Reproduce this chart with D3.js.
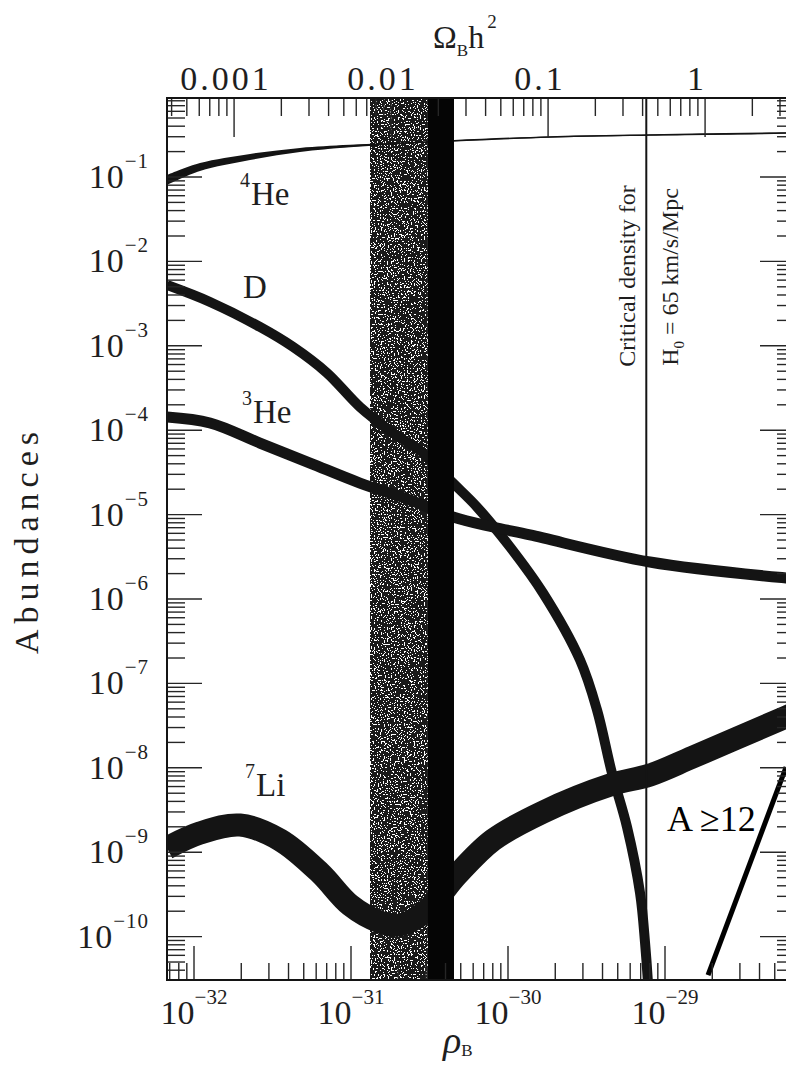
<!DOCTYPE html>
<html>
<head>
<meta charset="utf-8">
<script src="https://cdn.jsdelivr.net/npm/d3@7"></script>
<style>
  body { margin: 0; background: #fff; }
  svg { display: block; }
  text { font-family: "Liberation Serif", "Times New Roman", serif; fill: #1e1e1e; }
</style>
</head>
<body>
<div id="chart"></div>
<script>
// Données (log10 de rho_B en g/cm3, log10 des abondances)
const rhoHe4 = [-32.172, -31.962, -31.643, -31.325, -31.006, -30.369, -29.732, -29.096, -28.229, -28.10];
const abHe4  = [-1.036, -0.882, -0.763, -0.680, -0.633, -0.573, -0.526, -0.502, -0.479, -0.472];
const errHe4 = [0.059, 0.047, 0.036, 0.024, 0.014, 0.006, 0.006, 0.006, 0.006, 0.006];

const rhoD = [-32.172, -31.898, -31.580, -31.369, -31.153, -30.943, -30.732, -30.541, -30.350, -30.197,
              -29.987, -29.777, -29.541, -29.433, -29.338, -29.242, -29.159, -29.127, -29.102];
const abD  = [-2.280, -2.481, -2.777, -3.014, -3.322, -3.725, -4.033, -4.270, -4.626, -4.910,
              -5.384, -5.929, -6.723, -7.315, -8.062, -8.701, -9.483, -10.076, -10.75];

const rhoHe3 = [-32.172, -31.898, -31.580, -31.261, -30.943, -30.624, -30.350, -30.096, -29.860, -29.096, -28.229, -28.10];
const abHe3  = [-3.844, -3.915, -4.152, -4.389, -4.626, -4.827, -5.028, -5.147, -5.241, -5.562, -5.751, -5.768];

const rhoLi7 = [-32.172, -31.962, -31.707, -31.452, -31.197, -31.006, -30.815, -30.688, -30.516, -30.325,
                -30.096, -29.777, -29.350, -29.096, -28.822, -28.229, -28.10];
const abLi7  = [-8.950, -8.773, -8.678, -8.855, -9.246, -9.626, -9.827, -9.863, -9.685, -9.270,
                -8.855, -8.524, -8.204, -8.085, -7.872, -7.398, -7.300];

const rhoA12 = [-28.726, -28.229];
const abA12  = [-10.455, -7.991];

// bandes verticales (log10 rho)
const grayBand  = [-30.879, -30.510];
const blackBand = [-30.510, -30.344];

const rhoCrit = 7.6e-30;        // densité critique, H0 = 65 km/s/Mpc
const rhoPerOmegaH2 = 1.8e-29;  // rho_B = Omega_B h^2 * 1.8e-29

// graduations
const xDecades = [-33, -32, -31, -30, -29];
const xLabels  = [-32, -31, -30, -29];
const yDecades = d3.range(-11, 1);
const yLabels  = [-1, -2, -3, -4, -5, -6, -7, -8, -9, -10];
const topDecades = [-4, -3, -2, -1, 0];
const topValues  = [0.001, 0.01, 0.1, 1];
const topLabels  = ["0.001", "0.01", "0.1", "1"];

/////////////////////////////////////////////////////////

const W = 786, H = 1066;
const plot = {left: 167, right: 795, top: 98, bottom: 980};
const ink = "#141414";

const svg = d3.select("#chart").append("svg")
    .attr("width", W)
    .attr("height", H);

svg.append("rect").attr("width", W).attr("height", H).attr("fill", "#fff");

const x = d3.scaleLog().domain([10 ** -32.172, 10 ** -28.172]).range([plot.left, plot.right]);
const y = d3.scaleLog().domain([10 ** -10.514, 10 ** -0.064]).range([plot.bottom, plot.top]);

const defs = svg.append("defs");
defs.append("clipPath").attr("id", "clip")
  .append("rect")
    .attr("x", plot.left).attr("y", plot.top)
    .attr("width", plot.right - plot.left).attr("height", plot.bottom - plot.top);

// texture "grain" de la bande grise
const f = defs.append("filter").attr("id", "speckle")
    .attr("x", "0%").attr("y", "0%").attr("width", "100%").attr("height", "100%");
f.append("feTurbulence").attr("type", "fractalNoise").attr("baseFrequency", 0.7)
    .attr("numOctaves", 1).attr("seed", 7).attr("result", "noise");
f.append("feColorMatrix").attr("in", "noise").attr("type", "matrix")
    .attr("values", "0 0 0 0 1  0 0 0 0 1  0 0 0 0 1  1 0 0 0 0").attr("result", "w");
f.append("feComponentTransfer").attr("in", "w").attr("result", "t")
  .append("feFuncA").attr("type", "discrete")
    .attr("tableValues", "0 0 0 0 0 0 0 0 0 0 0 0 1 1 1 1 1 1 1 1");
f.append("feComposite").attr("in", "t").attr("in2", "SourceGraphic").attr("operator", "in");

const chart = svg.append("g").attr("clip-path", "url(#clip)");

// bande grise
chart.append("rect")
    .attr("x", x(10 ** grayBand[0])).attr("y", plot.top)
    .attr("width", x(10 ** grayBand[1]) - x(10 ** grayBand[0]))
    .attr("height", plot.bottom - plot.top)
    .attr("fill", "#1a1a1a");
chart.append("rect")
    .attr("x", x(10 ** grayBand[0])).attr("y", plot.top)
    .attr("width", x(10 ** grayBand[1]) - x(10 ** grayBand[0]))
    .attr("height", plot.bottom - plot.top)
    .attr("fill", "#e8e8e8")
    .attr("filter", "url(#speckle)");

// courbes
const line = d3.line()
    .x(d => x(10 ** d[0]))
    .y(d => y(10 ** d[1]))
    .curve(d3.curveCatmullRom.alpha(0.5));

function curve(rho, ab, w) {
  chart.append("path")
      .datum(d3.zip(rho, ab))
      .attr("d", line)
      .attr("fill", "none")
      .attr("stroke", ink)
      .attr("stroke-width", w)
      .attr("stroke-linecap", "butt")
      .attr("stroke-linejoin", "round");
}

// 4He : bande d'incertitude + trait fin
const he4 = d3.zip(rhoHe4, abHe4, errHe4);
chart.append("path")
    .datum(he4)
    .attr("d", d3.area()
        .x(d => x(10 ** d[0]))
        .y0(d => y(10 ** (d[1] - d[2])))
        .y1(d => y(10 ** (d[1] + d[2])))
        .curve(d3.curveCatmullRom.alpha(0.5)))
    .attr("fill", ink);
curve(rhoHe4, abHe4, 1.6);

curve(rhoD, abD, 10);
curve(rhoHe3, abHe3, 11);
curve(rhoLi7, abLi7, 23);

// bande noire
chart.append("rect")
    .attr("x", x(10 ** blackBand[0])).attr("y", plot.top)
    .attr("width", x(10 ** blackBand[1]) - x(10 ** blackBand[0]))
    .attr("height", plot.bottom - plot.top)
    .attr("fill", "#050505");

// densité critique
chart.append("line")
    .attr("x1", x(rhoCrit)).attr("x2", x(rhoCrit))
    .attr("y1", plot.top).attr("y2", plot.bottom)
    .attr("stroke", ink).attr("stroke-width", 2);

// A >= 12
svg.append("path")
    .datum(d3.zip(rhoA12, abA12))
    .attr("d", d3.line().x(d => x(10 ** d[0])).y(d => y(10 ** d[1])))
    .attr("stroke", "#000").attr("stroke-width", 5).attr("fill", "none");

/////////////////////////////////////////////////////////
// graduations

function logTicks(decades, lo, hi) {
  const out = [];
  decades.forEach(e => d3.range(1, 10).forEach(m => {
    const v = m * 10 ** e;
    if (v >= lo * 0.9999 && v <= hi * 1.0001) out.push({v: v, major: m === 1});
  }));
  return out;
}

const axes = svg.append("g").attr("stroke", "#262626").attr("stroke-width", 1.4);

const [xlo, xhi] = x.domain();
logTicks(xDecades, xlo, xhi).forEach(t => {
  axes.append("line")
      .attr("x1", x(t.v)).attr("x2", x(t.v))
      .attr("y1", plot.bottom).attr("y2", plot.bottom - (t.major ? 34 : 17));
});

logTicks(topDecades, xlo / rhoPerOmegaH2, xhi / rhoPerOmegaH2).forEach(t => {
  const px = x(t.v * rhoPerOmegaH2);
  axes.append("line")
      .attr("x1", px).attr("x2", px)
      .attr("y1", plot.top).attr("y2", plot.top + (t.major ? 39 : 18));
});

const [ylo, yhi] = y.domain();
logTicks(yDecades, ylo, yhi).forEach(t => {
  const len = t.major ? 35 : 18;
  axes.append("line")
      .attr("x1", plot.left).attr("x2", plot.left + len)
      .attr("y1", y(t.v)).attr("y2", y(t.v));
  axes.append("line")
      .attr("x1", plot.right).attr("x2", plot.right - len)
      .attr("y1", y(t.v)).attr("y2", y(t.v));
});

// cadre
svg.append("rect")
    .attr("x", plot.left).attr("y", plot.top)
    .attr("width", plot.right - plot.left).attr("height", plot.bottom - plot.top)
    .attr("fill", "none").attr("stroke", ink).attr("stroke-width", 2);

/////////////////////////////////////////////////////////
// textes

// axe du bas
svg.append("g").selectAll("text")
  .data(xLabels)
  .join("text")
    .attr("x", d => x(10 ** d))
    .attr("y", plot.bottom + 44)
    .attr("text-anchor", "middle")
    .style("font-size", "34px")
    .each(function(d) {
      const t = d3.select(this);
      t.append("tspan").text("10");
      t.append("tspan").attr("dy", -20).style("font-size", "21px").text("\u2212" + Math.abs(d));
    });

// axe du haut
svg.append("g").selectAll("text")
  .data(topValues)
  .join("text")
    .attr("x", d => x(d * rhoPerOmegaH2) - 8)
    .attr("y", plot.top - 8)
    .attr("text-anchor", "middle")
    .style("font-size", "34px")
    .style("letter-spacing", "3px")
    .text((d, i) => topLabels[i]);

// axe gauche
svg.append("g").selectAll("text")
  .data(yLabels)
  .join("text")
    .attr("x", 149)
    .attr("y", d => y(10 ** d) + 11)
    .attr("text-anchor", "end")
    .style("font-size", "34px")
    .style("letter-spacing", "1px")
    .each(function(d) {
      const t = d3.select(this);
      t.append("tspan").text("10");
      t.append("tspan").attr("dy", -20).style("font-size", "21px").text("\u2212" + Math.abs(d));
    });

// titres d'axes
const xt = svg.append("text")
    .attr("x", 443).attr("y", 1053)
    .style("font-size", "38px");
xt.append("tspan").style("font-style", "italic").text("\u03C1");
xt.append("tspan").attr("dy", 3).style("font-size", "17px").text("B");

const tt = svg.append("text")
    .attr("x", 433).attr("y", 48)
    .style("font-size", "32px");
tt.append("tspan").text("\u03A9");
tt.append("tspan").attr("dy", 8).style("font-size", "17px").text("B");
tt.append("tspan").attr("dy", -8).text("h");
tt.append("tspan").attr("dy", -20).attr("dx", 3).style("font-size", "19px").text("2");

svg.append("text")
    .attr("transform", "translate(38,540) rotate(-90)")
    .attr("text-anchor", "middle")
    .style("font-size", "34px")
    .style("letter-spacing", "6px")
    .text("Abundances");

// noms des courbes
function species(rho, ab, sup, name) {
  const t = svg.append("text")
      .attr("x", x(10 ** rho)).attr("y", y(10 ** ab))
      .style("font-size", "33px");
  if (sup) {
    t.append("tspan").attr("dy", -18).style("font-size", "20px").text(sup);
    t.append("tspan").attr("dy", 18).attr("dx", 1).text(name);
  } else {
    t.text(name);
  }
}
species(-31.707, -1.332, "4", "He");
species(-31.688, -2.434, null, "D");
species(-31.694, -3.915, "3", "He");
species(-31.675, -8.334, "7", "Li");

// densité critique
svg.append("text")
    .attr("transform", `translate(${x(rhoCrit) - 11},276) rotate(-90)`)
    .attr("text-anchor", "middle")
    .style("font-size", "24px")
    .text("Critical density for");
const h0 = svg.append("text")
    .attr("transform", `translate(${x(rhoCrit) + 32},277) rotate(-90)`)
    .attr("text-anchor", "middle")
    .style("font-size", "24px");
h0.append("tspan").text("H");
h0.append("tspan").attr("dy", 6).style("font-size", "15px").text("0");
h0.append("tspan").attr("dy", -6).text(" = 65  km/s/Mpc");

// A >= 12
svg.append("text")
    .attr("x", 667).attr("y", 831)
    .style("font-size", "36px")
    .style("fill", "#000")
    .text("A \u226512");
</script>
</body>
</html>
